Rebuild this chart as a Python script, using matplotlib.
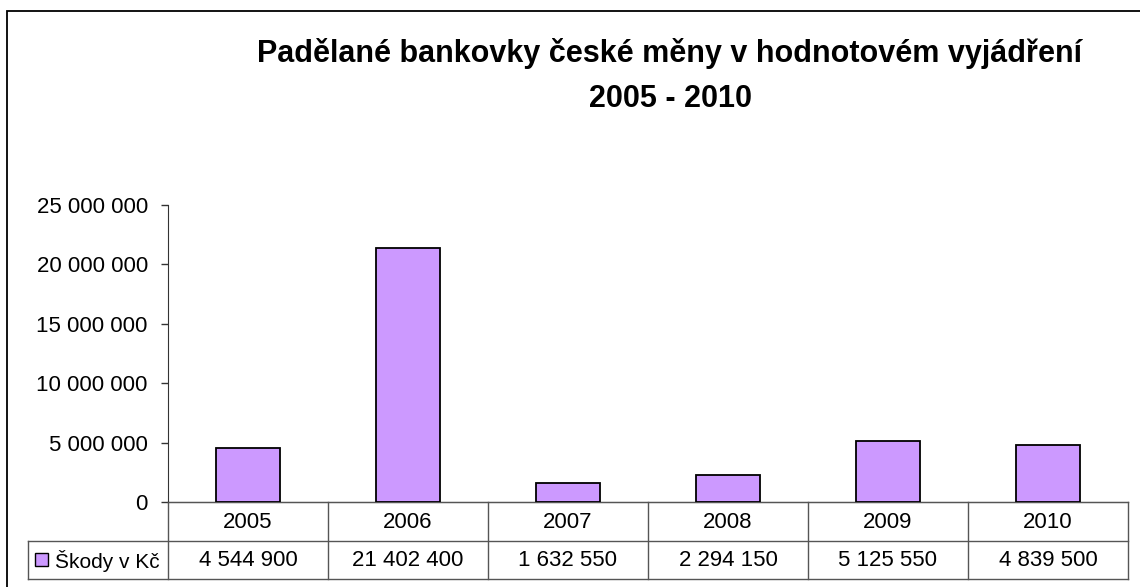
import matplotlib
matplotlib.use("Agg")
import matplotlib.pyplot as plt
import matplotlib.patches as mpatches
import matplotlib.transforms as mtransforms
from matplotlib.ticker import FuncFormatter

plt.rcParams['font.family'] = ['Liberation Sans', 'DejaVu Sans']

years = ['2005', '2006', '2007', '2008', '2009', '2010']
values = [4544900, 21402400, 1632550, 2294150, 5125550, 4839500]
series_name = 'Škody v Kč'
title = 'Padělané bankovky české měny v hodnotovém vyjádření\n2005 - 2010'
bar_color = '#CC99FF'

W, H = 1140, 587
fig = plt.figure(figsize=(W / 100, H / 100), dpi=100)

# outer chart border
fig.patches.append(mpatches.Rectangle((7 / W, -0.02), 1.05, 1 - 11 / H + 0.02,
                                      transform=fig.transFigure, fill=False,
                                      edgecolor='black', linewidth=1.3))

ax_l, ax_r, ax_t, ax_b = 168, 1128, 205, 502
ax = fig.add_axes([ax_l / W, 1 - ax_b / H, (ax_r - ax_l) / W, (ax_b - ax_t) / H])

x = list(range(len(years)))
ax.bar(x, values, width=0.4, color=bar_color, edgecolor='black', linewidth=1.3, zorder=3)
ax.set_xlim(-0.5, len(years) - 0.5)
ax.set_ylim(0, 25000000)
ax.set_yticks(range(0, 25000001, 5000000))
ax.yaxis.set_major_formatter(FuncFormatter(lambda v, p: f"{int(v):,}".replace(',', ' ')))
ax.tick_params(axis='y', labelsize=16, length=5, width=1, direction='out', pad=9.5, color='#333333')
ax.set_xticks([])
for s in ['top', 'right']:
    ax.spines[s].set_visible(False)
ax.spines['left'].set_color('#333333')
ax.spines['bottom'].set_color('#555555')

# data table
trans = mtransforms.blended_transform_factory(ax.transData, ax.transAxes)
row_h = 38.5 / (ax_b - ax_t)
line_kw = dict(color='#555555', linewidth=1.0, clip_on=False)
ax.plot([-0.5, len(years) - 0.5], [0, 0], transform=trans, **line_kw)
hdr_left = (28 - ax_l) / (ax_r - ax_l)
ax.plot([hdr_left, 1], [-row_h, -row_h], transform=ax.transAxes, **line_kw)
ax.plot([hdr_left, 1], [-2 * row_h, -2 * row_h], transform=ax.transAxes, **line_kw)
ax.plot([hdr_left, hdr_left], [-row_h, -2 * row_h], transform=ax.transAxes, **line_kw)
for i in range(len(years) + 1):
    ax.plot([i - 0.5, i - 0.5], [0, -2 * row_h], transform=trans, **line_kw)
for i, (yr, v) in enumerate(zip(years, values)):
    ax.text(i, -0.5 * row_h - 0.004, yr, transform=trans, ha='center', va='center', fontsize=16)
    ax.text(i, -1.5 * row_h - 0.004, f"{v:,}".replace(',', ' '), transform=trans,
            ha='center', va='center', fontsize=16)
# legend key in table
key_x = (35 - ax_l) / (ax_r - ax_l)
key_w = 13 / (ax_r - ax_l)
key_h = 13 / (ax_b - ax_t)
ax.add_patch(mpatches.Rectangle((key_x, -1.5 * row_h - key_h / 2), key_w, key_h,
                                transform=ax.transAxes, facecolor=bar_color,
                                edgecolor='black', linewidth=1.0, clip_on=False))
ax.text((55 - ax_l) / (ax_r - ax_l), -1.5 * row_h - 0.004, series_name, transform=ax.transAxes,
        ha='left', va='center', fontsize=15)

fig.text(670 / W, 1 - 76 / H, title, ha='center', va='center', fontsize=22,
         fontweight='bold', linespacing=1.65)

fig.savefig('out.png', dpi=100)
